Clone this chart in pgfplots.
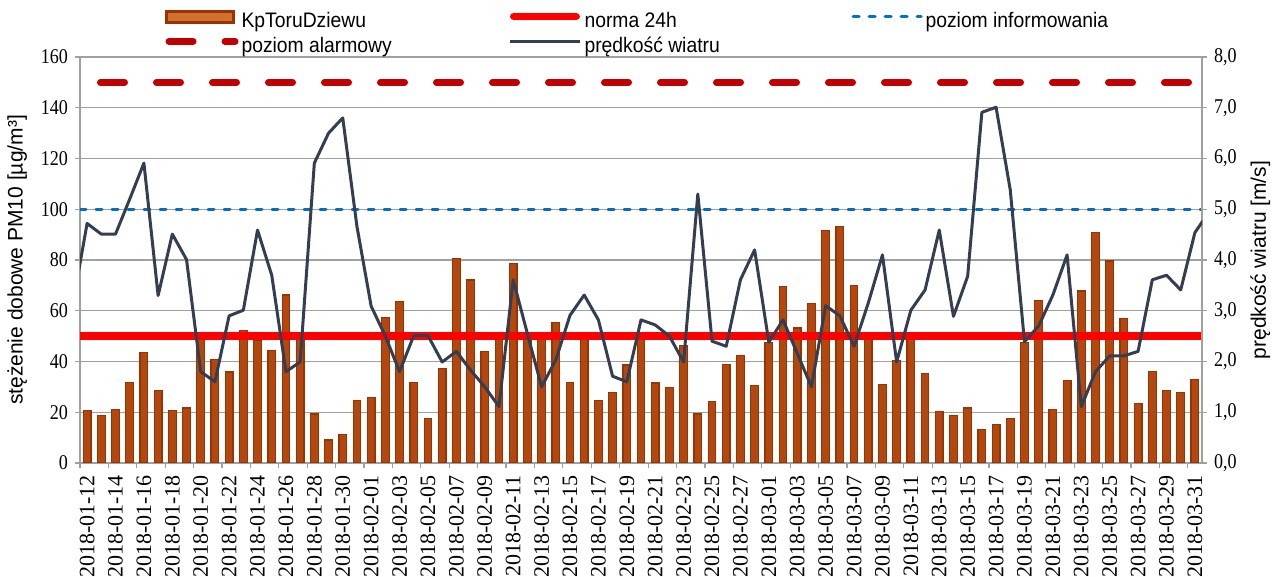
\documentclass[border=0pt]{standalone}
\usepackage{pgfplots}
\pgfplotsset{compat=1.18}
\usepackage{pgfplotstable}
\usepackage{fontspec}
\setmainfont{Liberation Serif}
\newfontfamily\sansf{Liberation Sans}
\newfontfamily\narrowserif{Liberation Serif}[FakeStretch=0.86]
\newfontfamily\legfont{Liberation Sans}[FakeStretch=0.92]
\definecolor{barfill}{RGB}{178,72,16}
\definecolor{barline}{RGB}{153,51,0}
\definecolor{legfill}{RGB}{210,112,48}
\definecolor{normared}{RGB}{255,0,0}
\definecolor{alarmred}{RGB}{192,0,0}
\definecolor{infoblue}{RGB}{0,112,192}
\definecolor{windcol}{RGB}{51,63,80}
\definecolor{gridgray}{RGB}{160,160,160}

\pgfplotstableread{
x pm
0 20.8
1 18.8
2 21.1
3 31.6
4 43.4
5 28.6
6 20.7
7 21.7
8 49.3
9 40.8
10 35.9
11 52.1
12 48.2
13 44.2
14 66.2
15 50.0
16 19.3
17 9.1
18 11.2
19 24.5
20 25.9
21 57.4
22 63.7
23 31.8
24 17.6
25 37.2
26 80.5
27 72.1
28 43.8
29 50.0
30 78.7
31 50.0
32 49.5
33 55.5
34 31.7
35 51.4
36 24.5
37 27.9
38 38.6
39 50.0
40 31.5
41 29.9
42 46.2
43 19.3
44 24.1
45 38.7
46 42.5
47 30.5
48 47.4
49 69.5
50 53.2
51 62.9
52 91.5
53 93.2
54 70.1
55 50.0
56 30.9
57 40.3
58 50.0
59 35.3
60 20.4
61 18.6
62 21.7
63 13.2
64 15.3
65 17.5
66 47.5
67 64.1
68 21.2
69 32.5
70 67.8
71 90.7
72 79.6
73 56.9
74 23.3
75 36.2
76 28.6
77 27.8
78 32.9
}\pmdata

\pgfplotstableread{
x w
-1 3.14
0 4.72
1 4.51
2 4.51
3 5.20
4 5.91
5 3.30
6 4.51
7 4.01
8 1.80
9 1.60
10 2.90
11 3.01
12 4.59
13 3.70
14 1.80
15 1.99
16 5.91
17 6.50
18 6.80
19 4.66
20 3.09
21 2.50
22 1.80
23 2.51
24 2.51
25 1.99
26 2.20
27 1.83
28 1.50
29 1.11
30 3.61
31 2.55
32 1.50
33 2.03
34 2.91
35 3.31
36 2.82
37 1.71
38 1.60
39 2.82
40 2.72
41 2.50
42 1.99
43 5.30
44 2.40
45 2.30
46 3.61
47 4.20
48 2.38
49 2.82
50 2.16
51 1.50
52 3.10
53 2.90
54 2.30
55 3.15
56 4.10
57 1.99
58 3.01
59 3.41
60 4.59
61 2.89
62 3.68
63 6.91
64 7.01
65 5.38
66 2.39
67 2.70
68 3.31
69 4.10
70 1.11
71 1.80
72 2.11
73 2.11
74 2.20
75 3.61
76 3.70
77 3.41
78 4.54
79 4.95
}\winddata

\begin{document}
\begin{tikzpicture}
\begin{axis}[
  width=561pt, height=203pt, scale only axis,
  xmin=-0.5, xmax=78.5, ymin=0, ymax=160,
  axis line style={draw=gridgray, line width=0.6pt},
  ytick={0,20,...,160},
  yticklabels={0,20,40,60,80,100,120,140,160},
  yticklabel style={font=\fontsize{10.5}{12}\narrowserif},
  ymajorgrids, grid style={draw=gridgray, line width=0.6pt},
  tick align=outside, major tick length=2.5pt,
  tick style={draw=gridgray, line width=0.6pt},
  ytick pos=left,
  xtick pos=bottom,
  xtick={0,2,...,78},
  xticklabels={2018-01-12,2018-01-14,2018-01-16,2018-01-18,2018-01-20,2018-01-22,2018-01-24,2018-01-26,2018-01-28,2018-01-30,2018-02-01,2018-02-03,2018-02-05,2018-02-07,2018-02-09,2018-02-11,2018-02-13,2018-02-15,2018-02-17,2018-02-19,2018-02-21,2018-02-23,2018-02-25,2018-02-27,2018-03-01,2018-03-03,2018-03-05,2018-03-07,2018-03-09,2018-03-11,2018-03-13,2018-03-15,2018-03-17,2018-03-19,2018-03-21,2018-03-23,2018-03-25,2018-03-27,2018-03-29,2018-03-31},
  xtick style={draw=none},
  xticklabel style={rotate=90, anchor=east, font=\fontsize{11}{12}\selectfont},
  extra x ticks={-0.5,1.5,...,77.5},
  extra x tick labels={},
  extra x tick style={xtick style={draw=gridgray, line width=0.6pt}, grid=none},
  ylabel={stężenie dobowe PM10 [µg/m³]},
  ylabel style={font=\fontsize{10.5}{12}\sansf},
]
\addplot[ybar, bar width=0.54, fill=barfill, draw=barline, line width=0.6pt] table[x=x,y=pm]{\pmdata};
\addplot[normared, line width=3.85pt] coordinates {(-0.5,50) (78.5,50)};
\addplot[infoblue, line width=1.5pt, line cap=round, dash pattern=on 3pt off 5pt] coordinates {(-0.5,100) (78.5,100)};
\addplot[alarmred, line width=3.5pt, line cap=round, dash pattern=on 12pt off 16pt, dash phase=17.75pt] coordinates {(-0.5,150) (78.5,150)};
\coordinate (A) at (rel axis cs:0,0);
\coordinate (B) at (rel axis cs:1,1);
\end{axis}
\begin{axis}[
  width=561pt, height=203pt, scale only axis,
  xmin=-0.5, xmax=78.5, ymin=0, ymax=8,
  axis x line=none,
  axis y line*=right,
  axis line style={draw=gridgray, line width=0.6pt},
  tick align=outside, major tick length=2.5pt,
  tick style={draw=gridgray, line width=0.6pt},
  ytick={0,1,...,8},
  yticklabels={{0,0},{1,0},{2,0},{3,0},{4,0},{5,0},{6,0},{7,0},{8,0}},
  yticklabel style={font=\fontsize{10.5}{12}\narrowserif},
  ylabel={prędkość wiatru [m/s]},
  ylabel style={font=\fontsize{10.5}{12}\sansf},
  legend columns=3,
  legend cell align=left,
  legend style={at={(0.0758,1)}, anchor=south west, draw=none, fill=none,
    inner sep=0pt, outer sep=0pt, yshift=0.5pt,
    font=\fontsize{10.5}{12}\legfont, row sep=3pt,
    nodes={inner sep=0pt, text height=7.5pt, text depth=2pt},
    /tikz/every odd column/.append style={column sep=1.5pt}},
]
\addlegendimage{legend image code/.code={\draw[draw=barline, fill=legfill, line width=1.5pt] (0.75pt,-0.5pt) rectangle (34.25pt,5pt);}}
\addlegendentry{\makebox[133.5pt][l]{KpToruDziewu}}
\addlegendimage{legend image code/.code={\draw[normared, line width=3.85pt, line cap=round] (1.9pt,2.5pt) -- (33pt,2.5pt);}}
\addlegendentry{\makebox[133.5pt][l]{norma 24h}}
\addlegendimage{legend image code/.code={\draw[infoblue, line width=1.5pt, line cap=round, dash pattern=on 3pt off 5pt] (1pt,2.5pt) -- (35pt,2.5pt);}}
\addlegendentry{poziom informowania}
\addlegendimage{legend image code/.code={\draw[alarmred, line width=3.5pt, line cap=round, dash pattern=on 12pt off 16pt] (2pt,2.5pt) -- (35pt,2.5pt);}}
\addlegendentry{\makebox[133.5pt][l]{poziom alarmowy}}
\addplot[windcol, line width=1.5pt, line join=round, legend image code/.code={\draw[windcol, line width=1.5pt] (0pt,2.5pt) -- (35pt,2.5pt);}] table[x=x,y=w]{\winddata};
\addlegendentry{\makebox[133.5pt][l]{prędkość wiatru}}
\end{axis}
\pgfresetboundingbox
\path[use as bounding box] ([xshift=-40pt,yshift=-56.5pt]A) rectangle ([xshift=36pt,yshift=28.5pt]B);
\end{tikzpicture}
\end{document}
